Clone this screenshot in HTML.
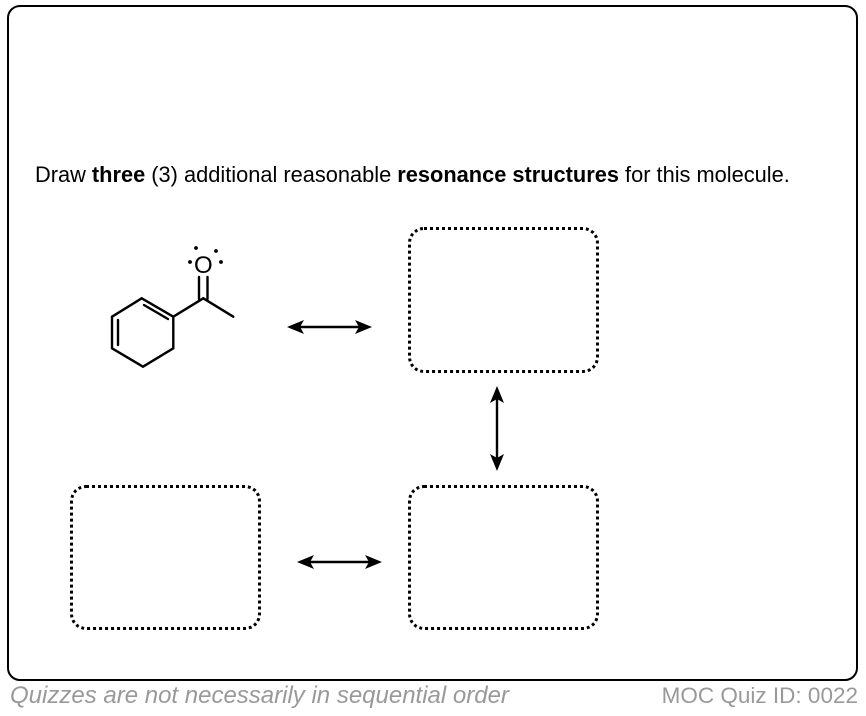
<!DOCTYPE html>
<html><head><style>
body{margin:0;width:866px;height:716px;background:#fff;position:relative;font-family:"Liberation Sans",Arial,sans-serif;overflow:hidden}
.frame{position:absolute;left:7px;top:5px;width:847px;height:672px;border:2px solid #000;border-radius:13px}
.q{position:absolute;left:35px;top:162px;font-size:21.8px;color:#000}
.box{position:absolute;border:3px dotted #000;border-radius:16px;box-sizing:border-box}
.f1{position:absolute;left:10px;top:682px;font-size:24px;color:#999;font-style:italic}
.f2{position:absolute;right:8px;top:683px;font-size:22.5px;color:#999}
</style></head><body>
<div class="frame"></div>
<div class="q">Draw <b>three</b> (3) additional reasonable <b>resonance structures</b> for this molecule.</div>
<div class="box" style="left:408px;top:227px;width:191px;height:146px"></div>
<div class="box" style="left:408px;top:485px;width:191px;height:145px"></div>
<div class="box" style="left:70px;top:485px;width:191px;height:145px"></div>
<svg width="866" height="716" style="position:absolute;left:0;top:0">
<g stroke="#000" stroke-width="2.4" fill="none" stroke-linecap="round">
<polyline points="141.7,298.3 173.3,316.7 173.3,348.3 143,366.7 112,348.3 112,316.7 141.7,298.3"/>
<line x1="144" y1="305" x2="168" y2="319"/>
<line x1="118" y1="320" x2="118" y2="345"/>
<line x1="173.3" y1="316.7" x2="203.3" y2="298.3"/>
<line x1="203.3" y1="298.3" x2="233.3" y2="316.7"/>
<line x1="199" y1="299" x2="199" y2="277"/>
<line x1="207.5" y1="299" x2="207.5" y2="277"/>
<line x1="295" y1="327" x2="364" y2="327"/>
<line x1="497" y1="396" x2="497" y2="462"/>
<line x1="305" y1="562" x2="374" y2="562"/>
</g>
<g fill="#000">
<polygon points="287,327 304,320 300,327 304,334"/>
<polygon points="372,327 355,320 359,327 355,334"/>
<polygon points="497,386 490,403 497,399 504,403"/>
<polygon points="497,471 490,454 497,458 504,454"/>
<polygon points="297,562 314,555 310,562 314,569"/>
<polygon points="382,562 365,555 369,562 365,569"/>
<circle cx="190" cy="262" r="1.9"/><circle cx="196" cy="248" r="1.9"/>
<circle cx="216" cy="251" r="1.9"/><circle cx="221" cy="262" r="1.9"/>
</g>
<text x="203.3" y="273" text-anchor="middle" font-family="Liberation Sans,Arial,sans-serif" font-size="24">O</text>
</svg>
<div class="f1">Quizzes are not necessarily in sequential order</div>
<div class="f2">MOC Quiz ID: 0022</div>
</body></html>
